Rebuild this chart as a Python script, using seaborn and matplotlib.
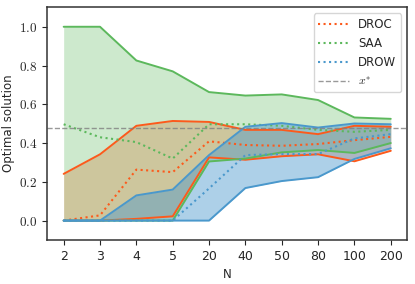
import numpy as np
import pandas as pd
import seaborn as sns
import matplotlib
matplotlib.use("Agg")
import matplotlib.pyplot as plt
from matplotlib.ticker import FuncFormatter

# sample sizes (categorical x axis)
N = ["2", "3", "4", "5", "20", "40", "50", "80", "100", "200"]

# DROC
droc_mean = [0.0, 0.027, 0.263, 0.25, 0.409, 0.39, 0.386, 0.395, 0.415, 0.432]
droc_low = [0.0, 0.0, 0.009, 0.022, 0.326, 0.314, 0.332, 0.342, 0.306, 0.36]
droc_up = [0.241, 0.342, 0.489, 0.514, 0.509, 0.468, 0.468, 0.446, 0.489, 0.484]

# SAA
saa_mean = [0.497, 0.43, 0.405, 0.32, 0.497, 0.497, 0.489, 0.468, 0.458, 0.468]
saa_low = [0.0, 0.0, 0.0, 0.0, 0.305, 0.32, 0.352, 0.364, 0.349, 0.40]
saa_up = [1.0, 1.0, 0.826, 0.77, 0.663, 0.645, 0.651, 0.622, 0.532, 0.525]

# DROW
drow_mean = [0.0, 0.0, 0.0, 0.0, 0.166, 0.338, 0.343, 0.343, 0.424, 0.446]
drow_low = [0.0, 0.0, 0.0, 0.0, 0.0, 0.168, 0.204, 0.224, 0.318, 0.373]
drow_up = [0.0, 0.0, 0.13, 0.16, 0.338, 0.484, 0.503, 0.48, 0.501, 0.497]

x_star = 0.478

methods = ["DROC", "SAA", "DROW"]
colors = {"DROC": "#fc5a1c", "SAA": "#5cb85c", "DROW": "#4a98cc"}
alphas = {"DROC": 0.3, "SAA": 0.3, "DROW": 0.45}

df = pd.DataFrame({
    "N": N * 3,
    "method": np.repeat(methods, len(N)),
    "mean": droc_mean + saa_mean + drow_mean,
    "low": droc_low + saa_low + drow_low,
    "up": droc_up + saa_up + drow_up,
})

sns.set_style("ticks")
plt.rcParams["font.family"] = ["DejaVu Sans"]
plt.rcParams["mathtext.fontset"] = "cm"
plt.rcParams["font.size"] = 8

fig = plt.figure(figsize=(4.15, 2.84), dpi=100)
ax = fig.add_axes([0.114, 0.155, 0.867, 0.819])

# bands first
for m in methods:
    d = df[df.method == m]
    ax.fill_between(d["N"], d["low"], d["up"], color=colors[m], alpha=alphas[m], linewidth=0)

# band edges + mean
for m in methods:
    d = df[df.method == m]
    sns.lineplot(data=d, x="N", y="low", color=colors[m], lw=1.4, ax=ax, sort=False)
    sns.lineplot(data=d, x="N", y="up", color=colors[m], lw=1.4, ax=ax, sort=False)
    sns.lineplot(data=d, x="N", y="mean", color=colors[m], lw=1.5, ls=":", ax=ax,
                 sort=False, label=m)

ax.axhline(x_star, color="gray", ls="--", lw=1, alpha=0.8, label=r"$x^{*}$")

for s in ax.spines.values():
    s.set_visible(True)
    s.set_linewidth(1.1)
    s.set_color("#333333")

ax.set_ylim(-0.1, 1.1)
ax.set_yticks([0.0, 0.2, 0.4, 0.6, 0.8, 1.0])
ax.yaxis.set_major_formatter(FuncFormatter(lambda v, p: r"$%.1f$" % v))
ax.tick_params(axis="y", labelsize=9.5)
ax.tick_params(axis="x", labelsize=9)
ax.set_xlabel("N", fontsize=8.5)
ax.set_ylabel("Optimal solution", fontsize=8.5, labelpad=3)
ax.legend(loc="upper right", fontsize=8.5, frameon=True, handlelength=2.6)

fig.savefig("out.png", dpi=100)
